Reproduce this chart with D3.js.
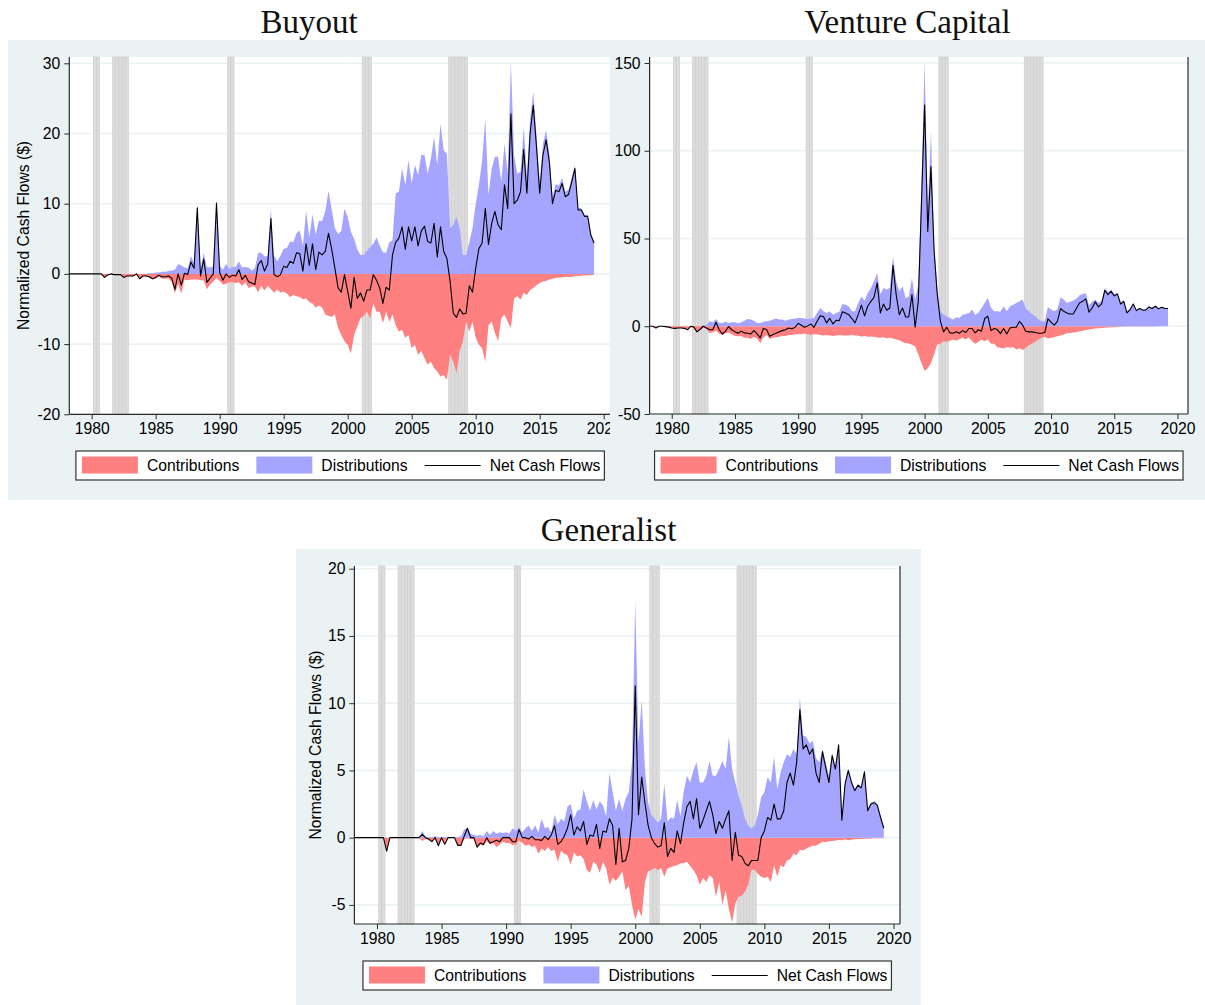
<!DOCTYPE html>
<html>
<head>
<meta charset="utf-8">
<script src="https://cdn.jsdelivr.net/npm/d3@7"></script>
<style>
	body { margin: 0; background: #fff; }
	svg text { font-family: "Liberation Sans", Arial, sans-serif; }
	svg .title { font-family: "Liberation Serif", "Times New Roman", serif; }
</style>
</head>
<body>
<svg id="chart" width="1205" height="1005"></svg>
<script>
// quarterly series, first value is 1978.25
const startYear = 1978.25
const xTicks = [1980, 1985, 1990, 1995, 2000, 2005, 2010, 2015, 2020]
const legendLabels = ['Contributions', 'Distributions', 'Net Cash Flows']
const recessionQuarters = [1980.25, 1980.5, 1981.75, 1982, 1982.25, 1982.5, 1982.75,
	1990.75, 1991, 2001.25, 2001.5, 2001.75, 2008, 2008.25, 2008.5, 2008.75, 2009, 2009.25]

/* Buyout */
const buyoutYTicks = [-20, -10, 0, 10, 20, 30]
const buyoutNet = [
	0, 0, 0,
	0, 0, 0, 0,
	0, 0, 0, 0,
	-0.5, -0.15, 0, -0.1,
	-0.1, -0.1, -0.5, -0.3,
	-0.3, -0.3, 0, -0.7,
	-0.3, -0.3, -0.4, -0.7,
	-0.5, -0.2, -0.4, -0.4,
	-0.3, -0.6, -2.2, 0,
	-1.6, 0.1, -0.1, 1.7,
	0.8, 9.4, -0.3, 2.1,
	-1.2, -0.6, 0, 10.1,
	0.2, -0.9, 0, -0.5,
	-0.2, -0.3, 0.6, -0.8,
	-0.2, -1.1, -1.3, -1.5,
	1.3, 1.9, 0.4, 1.4,
	7.9, -0.1, -0.4, -0.1,
	1.1, 0.9, 1.8, 1.5,
	3.0, 2.9, 0.4, 4.3,
	1.2, 4.3, 0.6, 3.1,
	2.7, 3.2, 5.8, 3.5,
	0.8, -2.0, -2.6, -0.1,
	-2.5, -4.9, -0.5, -3.5,
	-2.7, -3.9, -2.3, -2.3,
	-0.1, -0.9, -2.0, -4.2,
	-1.9, -2.3, 2.7, 4.5,
	5.1, 6.7, 3.5, 6.7,
	4.7, 6.7, 4.0, 6.1,
	6.8, 4.6, 4.4, 7.2,
	2.4, 6.7, 3.2, 2.2,
	-1.1, -5.6, -6.2, -5.0,
	-5.7, -5.6, -1.7, -2.6,
	0.8, 3.6, 4.4, 9.3,
	4.2, 7.2, 8.9, 7.0,
	6.3, 12.7, 9.3, 22.8,
	10.0, 10.5, 11.7, 17.7,
	11.5, 20.0, 24.0, 18.1,
	11.5, 16.9, 19.1, 16.0,
	10.0, 11.9, 11.7, 12.9,
	11.0, 11.3, 13.1, 15.0,
	9.1, 9.1, 8.2, 8.2,
	5.5, 4.4
]
const buyoutDistributions = [
	0, 0, 0,
	0, 0, 0, 0,
	0, 0, 0, 0,
	0, 0, 0, 0,
	0, 0, 0, 0,
	0, 0, 0, 0,
	0, 0, 0.1, 0.1,
	0.2, 0.2, 0.3, 0.3,
	0.4, 0.5, 0.6, 1.4,
	1.2, 0.9, 0.8, 2.5,
	1.6, 9.8, 0.6, 3.0,
	1.0, 0.9, 1.1, 10.4,
	1.2, 0.6, 1.4, 0.7,
	1.0, 1.0, 1.8, 0.9,
	1.0, 0.9, 0.5, 0.8,
	3.0, 3.0, 2.5, 2.5,
	9.2, 2.6, 1.8, 2.6,
	3.6, 3.7, 4.6, 4.5,
	5.8, 6.2, 4.0, 9.0,
	5.2, 8.5, 5.6, 7.6,
	7.5, 9.0, 11.8, 9.2,
	6.5, 5.7, 6.1, 9.3,
	8.1, 6.0, 5.0, 3.5,
	2.7, 2.7, 3.3, 3.8,
	4.3, 5.2, 4.0, 3.1,
	3.0, 4.5, 4.8, 11.5,
	11.7, 15.0, 12.7, 16.2,
	12.9, 15.5, 14.1, 17.0,
	16.9, 14.3, 16.4, 19.5,
	15.5, 21.4, 17.6, 17.1,
	6.5, 7.0, 8.1, 6.5,
	2.7, 2.7, 4.5, 6.5,
	10.0, 12.7, 16.1, 22.1,
	11.2, 15.0, 16.7, 16.7,
	13.1, 18.6, 14.3, 30.2,
	16.9, 14.3, 14.5, 20.9,
	14.0, 22.0, 25.9, 19.8,
	13.0, 18.5, 20.5, 17.2,
	11.0, 12.8, 12.6, 13.7,
	11.7, 12.0, 13.7, 15.5,
	9.4, 9.4, 8.4, 8.4,
	5.6, 4.5
]
const buyoutContributions = [
	0, 0, 0,
	0, 0, 0, 0,
	0, 0, 0, 0,
	-0.5, -0.15, 0, -0.1,
	-0.1, -0.1, -0.5, -0.3,
	-0.3, -0.3, -0.1, -0.7,
	-0.3, -0.3, -0.5, -0.8,
	-0.7, -0.4, -0.7, -0.7,
	-0.7, -1.1, -2.8, -1.4,
	-2.8, -0.8, -0.9, -0.8,
	-0.8, -0.8, -0.9, -0.9,
	-2.2, -1.5, -1.1, -0.6,
	-1.0, -1.5, -1.4, -1.2,
	-1.2, -1.3, -1.2, -1.7,
	-1.2, -2.0, -1.8, -1.8,
	-2.6, -1.7, -2.4, -1.7,
	-2.2, -2.7, -2.2, -2.7,
	-2.5, -2.8, -3.3, -3.0,
	-3.2, -3.3, -3.6, -3.5,
	-4.0, -4.2, -4.8, -4.5,
	-4.8, -5.8, -6.0, -6.1,
	-5.8, -7.7, -8.7, -9.6,
	-10.1, -11.3, -8.7, -7.5,
	-6.3, -6.0, -5.4, -6.3,
	-4.2, -5.4, -5.4, -7.0,
	-5.4, -6.8, -5.8, -7.3,
	-8.2, -8.0, -9.1, -8.7,
	-10.6, -10.1, -11.5, -11.0,
	-12.0, -12.9, -12.5, -13.4,
	-13.9, -14.6, -14.4, -15.1,
	-11.5, -12.5, -14.1, -11.0,
	-9.6, -6.8, -8.2, -6.8,
	-9.1, -10.1, -10.6, -12.5,
	-7.3, -6.8, -8.4, -9.6,
	-6.3, -5.8, -6.8, -7.7,
	-3.5, -3.2, -3.7, -2.7,
	-3.0, -2.3, -2.0, -1.6,
	-1.3, -1.1, -1.0, -0.8,
	-0.7, -0.6, -0.5, -0.5,
	-0.4, -0.45, -0.4, -0.3,
	-0.3, -0.25, -0.2, -0.2,
	-0.15, -0.15
]

/* Venture Capital */
const ventureYTicks = [-50, 0, 50, 100, 150]
const ventureNet = [
	0, 0, -1.0,
	0, 0, -0.2, -0.5,
	-1.0, -1.2, -1.0, -1.0,
	-1.2, -2.0, 0, -0.5,
	-3.2, -1.7, 0, -1.0,
	-2.0, -2.0, 2.3, -2.0,
	-4.4, -2.8, -0.2, -2.0,
	-3.2, -4.0, -2.8, -3.8,
	-4.0, -4.4, -2.5, -4.4,
	-6.6, -1.3, -1.9, -5.7,
	-4.7, -4.0, -3.2, -2.5,
	-2.0, -1.0, -1.4, -0.6,
	1.7, 0.6, -0.6, 0.2,
	1.3, -0.6, 2.8, 6.0,
	5.5, 1.9, 4.5, 1.3,
	3.4, 3.2, 8.2, 7.6,
	6.6, 4.4, 1.9, 6.6,
	12.0, 5.9, 11.4, 14.2,
	16.5, 24.7, 7.6, 12.7,
	9.1, 10.4, 34.7, 18.0,
	6.6, 10.4, 5.3, 5.3,
	18.0, -0.6, 14.2, 70.0,
	126.0, 54.0, 91.0, 43.0,
	18.0, 2.8, -3.2, -0.6,
	-3.8, -4.0, -3.2, -4.0,
	-2.5, -3.6, -1.3, -1.3,
	-3.8, -2.0, -2.8, 4.4,
	5.7, -2.5, -1.3, -1.9,
	-4.2, -1.3, -4.4, -1.0,
	-0.6, -0.6, 2.8, 0.6,
	-2.8, -3.2, -3.2, -3.6,
	-4.0, -4.0, -3.6, 4.2,
	2.3, 0.6, 2.8, 10.1,
	8.5, 7.6, 7.0, 7.0,
	10.1, 13.3, 14.2, 15.6,
	8.0, 10.4, 13.9, 11.0,
	12.7, 20.5, 18.0, 19.9,
	17.3, 18.4, 12.7, 14.2,
	7.6, 9.5, 12.7, 8.9,
	10.1, 9.2, 9.3, 11.0,
	10.1, 11.4, 9.9, 10.8,
	10.1, 10.1
]
const ventureDistributions = [
	0, 0, 0,
	0, 0, 0, 0,
	0, 0, 0, 0,
	0, 0, 0, 0,
	0, 0, 0.5, 0.5,
	2.8, 2.3, 4.2, 1.9,
	1.9, 2.5, 1.9, 2.3,
	2.3, 1.7, 2.3, 3.2,
	4.2, 3.8, 3.2, 1.9,
	1.9, 2.5, 2.8, 3.2,
	3.8, 4.4, 3.8, 3.8,
	3.2, 3.8, 4.2, 4.4,
	4.7, 4.7, 4.4, 4.2,
	4.4, 4.7, 7.6, 10.4,
	8.5, 7.6, 8.5, 6.6,
	7.6, 8.2, 12.7, 12.3,
	11.4, 8.5, 8.5, 13.3,
	17.0, 14.6, 19.0, 21.8,
	25.6, 30.4, 18.4, 21.8,
	20.9, 21.8, 39.8, 25.6,
	19.9, 22.8, 16.1, 17.0,
	27.5, 15.2, 23.7, 80.0,
	151.0, 65.0, 111.0, 48.0,
	22.0, 8.5, 6.6, 5.7,
	4.7, 3.8, 5.1, 4.7,
	6.6, 7.0, 7.4, 9.5,
	6.6, 7.6, 10.4, 13.3,
	16.1, 10.4, 8.5, 8.5,
	8.2, 11.4, 8.5, 11.4,
	12.3, 13.3, 14.2, 15.2,
	10.1, 8.5, 7.0, 5.7,
	3.8, 2.8, 2.8, 11.0,
	9.5, 8.5, 9.5, 16.5,
	15.2, 13.3, 13.9, 14.6,
	15.7, 17.6, 18.4, 18.8,
	12.0, 13.9, 15.2, 13.3,
	14.6, 21.8, 19.5, 20.9,
	18.4, 19.0, 13.3, 15.0,
	8.3, 10.0, 13.1, 9.3,
	10.4, 9.3, 9.7, 11.4,
	10.4, 11.8, 10.3, 11.2,
	10.4, 10.4
]
const ventureContributions = [
	0, 0, -1.0,
	0, 0, -0.2, -0.5,
	-1.0, -1.2, -1.0, -1.0,
	-1.2, -2.0, -0.5, -0.5,
	-3.2, -2.0, -0.6, -1.5,
	-3.8, -3.4, -2.5, -4.2,
	-5.0, -4.0, -3.5, -4.5,
	-5.5, -5.7, -5.5, -6.5,
	-6.5, -7.2, -6.0, -7.0,
	-9.5, -6.5, -4.8, -7.2,
	-6.5, -6.2, -6.0, -5.5,
	-5.5, -5.0, -5.0, -4.5,
	-4.5, -4.5, -4.2, -4.5,
	-4.8, -4.5, -4.5, -5.0,
	-5.2, -5.0, -5.2, -5.5,
	-5.3, -5.0, -5.2, -5.3,
	-5.2, -5.0, -5.2, -5.4,
	-5.8, -5.5, -6.0, -5.8,
	-6.0, -6.4, -6.5, -6.2,
	-6.8, -6.5, -7.0, -7.5,
	-8.0, -9.0, -9.5, -9.8,
	-10.5, -11.5, -16.0, -21.0,
	-25.5, -24.0, -21.0, -16.0,
	-10.4, -10.0, -8.5, -8.8,
	-8.2, -7.6, -8.2, -7.2,
	-6.6, -7.6, -6.3, -8.5,
	-10.0, -9.0, -7.6, -8.5,
	-7.6, -10.0, -10.0, -12.0,
	-12.3, -12.7, -11.8, -12.3,
	-11.8, -13.3, -12.5, -13.5,
	-12.3, -10.8, -10.0, -8.8,
	-7.6, -6.6, -6.0, -7.0,
	-6.6, -6.3, -5.7, -5.3,
	-4.7, -4.0, -3.8, -3.5,
	-3.4, -2.8, -2.5, -2.1,
	-1.9, -1.5, -1.3, -1.1,
	-1.0, -0.9, -0.7, -0.6,
	-0.5, -0.4, -0.3, -0.3,
	-0.2, -0.2, -0.15, -0.15,
	-0.1, -0.1, -0.1, -0.1,
	-0.1, -0.1, -0.05, -0.05,
	-0.05, -0.05
]

/* Generalist */
const generalistYTicks = [-5, 0, 5, 10, 15, 20]
const generalistNet = [
	0, 0, 0,
	0, 0, 0, 0,
	0, 0, 0, -1.0,
	0, 0, 0, 0,
	0, 0, 0, 0,
	0, 0, 0.25, 0,
	-0.1, -0.3, 0, -0.6,
	0, -0.5, 0, 0,
	0, -0.57, -0.57, 0.1,
	0.7, 0, 0, -0.7,
	-0.4, -0.5, 0, -0.4,
	-0.3, -0.2, -0.3, 0,
	0, 0, -0.3, -0.3,
	0.6, 0, 0, -0.1,
	0.1, -0.15, -0.15, -0.2,
	0.1, -0.15, 0.2, 0.9,
	-0.5, -0.3, 0.1, 0.7,
	1.7, 0.2, 0.8, 0.5,
	1.2, -0.5, 0.2, 0.1,
	1.0, -0.8, 0.5, 0.4,
	1.4, 0.9, -2.0, 0.7,
	-1.8, -1.7, -0.8, 1.4,
	11.3, 1.7, 4.5, 2.6,
	0.9, 0, -0.45, -0.7,
	-0.6, 1.1, -1.4, -0.8,
	-1.1, 0.5, -0.45, 1.1,
	2.3, 2.7, 1.4, 2.9,
	0.7, 1.3, 2.0, 2.7,
	1.7, 0.3, 1.2, 0.7,
	1.4, 2.0, -1.7, 0.4,
	-1.3, -1.4, -1.9, -2.1,
	-1.7, -1.7, -1.7, 0,
	0.5, 1.5, 1.3, 2.5,
	1.4, 1.4, 2.0, 4.1,
	4.8, 3.9, 5.6, 9.5,
	6.6, 6.9, 6.2, 6.6,
	4.8, 4.1, 6.4, 5.2,
	4.1, 6.1, 5.1, 6.9,
	1.3, 4.0, 5.0, 4.1,
	3.5, 3.9, 3.7, 4.9,
	2.0, 2.5, 2.6, 2.4,
	1.5, 0.7
]
const generalistDistributions = [
	0, 0, 0,
	0, 0, 0, 0,
	0, 0, 0, 0,
	0, 0, 0, 0,
	0, 0, 0, 0,
	0, 0, 0.5, 0.1,
	0.05, 0.05, 0.1, 0.05,
	0.05, 0.05, 0.05, 0.05,
	0.05, 0.05, 0.1, 0.6,
	0.7, 0.3, 0.2, 0.15,
	0.2, 0.1, 0.5, 0.2,
	0.5, 0.3, 0.4, 0.35,
	0.4, 0.3, 0.7, 0.5,
	0.8, 0.4, 0.7, 0.9,
	0.5, 0.9, 0.4, 1.4,
	0.7, 0.8, 0.4, 1.7,
	1.0, 1.4, 1.2, 2.3,
	2.5, 1.4, 2.0, 2.1,
	3.6, 2.7, 2.0, 2.8,
	2.1, 2.7, 2.4, 1.6,
	4.8, 3.4, 2.0, 2.9,
	2.0, 2.9, 3.4, 5.6,
	17.6, 7.0, 10.2, 5.1,
	2.6, 1.7, 1.4, 1.1,
	1.4, 4.0, 1.2, 1.5,
	1.4, 2.8, 1.6, 3.4,
	4.6, 4.1, 5.0, 5.6,
	4.1, 4.1, 4.6, 5.7,
	4.6, 4.6, 5.1, 5.7,
	5.1, 7.5, 5.1, 4.1,
	3.1, 2.4, 1.4, 0.9,
	0.7, 0.9, 1.7, 3.0,
	3.4, 4.5, 4.1, 6.0,
	3.6, 4.8, 5.6, 6.2,
	6.0, 6.6, 6.2, 10.4,
	7.6, 7.5, 7.0, 7.2,
	5.9, 5.6, 6.6, 5.6,
	4.6, 6.3, 5.2, 6.9,
	1.4, 4.1, 5.1, 4.2,
	3.6, 4.0, 3.8, 4.9,
	2.1, 2.6, 2.7, 2.5,
	1.6, 0.8
]
const generalistContributions = [
	0, 0, 0,
	0, 0, 0, 0,
	0, 0, 0, -1.0,
	0, 0, 0, 0,
	0, 0, 0, 0,
	0, 0, -0.25, -0.1,
	-0.15, -0.3, -0.1, -0.6,
	-0.1, -0.5, 0, 0,
	0, -0.6, -0.6, -0.1,
	-0.05, -0.1, -0.1, -0.75,
	-0.5, -0.6, -0.25, -0.5,
	-0.4, -0.7, -0.5, -0.3,
	-0.4, -0.4, -0.55, -0.5,
	-0.2, -0.4, -0.6, -0.5,
	-0.7, -0.6, -1.2, -0.8,
	-1.0, -0.7, -1.0, -0.9,
	-1.8, -1.0, -1.2, -1.3,
	-2.0, -1.1, -1.4, -1.3,
	-1.6, -2.4, -2.6, -1.8,
	-2.0, -2.6, -1.8, -2.3,
	-3.5, -3.0, -3.2, -2.9,
	-2.5, -3.9, -3.6, -5.0,
	-6.1, -5.3, -5.9, -3.3,
	-2.5, -2.4, -2.25, -2.4,
	-2.25, -2.9, -2.3, -2.2,
	-2.1, -2.05, -1.9, -1.9,
	-1.8, -2.1, -2.4, -2.8,
	-3.5, -3.0, -3.3, -2.8,
	-3.0, -4.4, -3.3, -5.0,
	-3.9, -5.3, -6.3, -4.9,
	-4.4, -4.3, -4.0, -3.5,
	-2.4, -2.4, -2.7, -2.9,
	-3.0, -2.9, -3.3, -2.05,
	-2.9, -2.05, -2.2, -1.7,
	-1.6, -1.2, -1.3, -0.9,
	-0.95, -0.8, -0.7, -0.6,
	-0.6, -0.45, -0.3, -0.35,
	-0.27, -0.25, -0.22, -0.17,
	-0.2, -0.12, -0.2, -0.15,
	-0.12, -0.1, -0.1, -0.08,
	-0.08, -0.06, -0.05, -0.05,
	-0.04, -0.03
]

const colors = {
	background: '#eaf2f3',
	grid: '#eaf2f3',
	axis: '#2b2b2b',
	contributions: '#ff8080',
	distributions: '#a5a5ff',
	net: '#000',
	recession: '#dcdcdc'
}

const fontSize = 15.7

// plain hyphen for negative tick labels, as in the original
const formatTick = (d) => `${d}`

const panels = [
	{
		title: 'Buyout',
		net: buyoutNet,
		distributions: buyoutDistributions,
		contributions: buyoutContributions,
		yTicks: buyoutYTicks,
		region: { x: 8, y: 40, width: 602, height: 460 },
		plot: { left: 69.3, right: 611, top: 57, bottom: 414.3, end: 603.7 },
		yRange: [414.3, 63.3],
		yTitle: { x: 29, y: 235.5 },
		border: false,
		legendTop: 451,
		titleY: 33
	},
	{
		title: 'Venture Capital',
		net: ventureNet,
		distributions: ventureDistributions,
		contributions: ventureContributions,
		yTicks: ventureYTicks,
		region: { x: 610, y: 40, width: 595, height: 460 },
		plot: { left: 649.6, right: 1188, top: 57, bottom: 414, end: 1177.5 },
		yRange: [414, 63],
		yTitle: null,
		border: true,
		legendTop: 451,
		titleY: 33
	},
	{
		title: 'Generalist',
		net: generalistNet,
		distributions: generalistDistributions,
		contributions: generalistContributions,
		yTicks: generalistYTicks,
		region: { x: 296, y: 549, width: 625, height: 456 },
		plot: { left: 354.4, right: 900, top: 566, bottom: 924, end: 893.5 },
		yRange: [904.9, 568.7],
		yTitle: { x: 321, y: 745 },
		border: true,
		legendTop: 961,
		titleY: 541
	}
]

const svg = d3.select('#chart')

const drawPanel = (p) => {
	const g = svg.append('g')
	const quarters = d3.range(p.net.length).map((i) => startYear + i / 4)
	const rows = quarters.map((q, i) => ({
		q,
		net: p.net[i],
		contributions: p.contributions[i],
		distributions: p.distributions[i]
	}))

	const xScale = d3.scaleLinear()
		.domain([startYear, 2020])
		.range([p.plot.left, p.plot.end])

	const yScale = d3.scaleLinear()
		.domain(d3.extent(p.yTicks))
		.range(p.yRange)

	/* Regions */
	g.append('rect')
		.attr('x', p.region.x)
		.attr('y', p.region.y)
		.attr('width', p.region.width)
		.attr('height', p.region.height)
		.attr('fill', colors.background)

	g.append('rect')
		.attr('x', p.plot.left)
		.attr('y', p.plot.top)
		.attr('width', p.plot.right - p.plot.left)
		.attr('height', p.plot.bottom - p.plot.top)
		.attr('fill', '#fff')

	/* Grid */
	g.append('g')
		.selectAll('line')
		.data(p.yTicks)
		.join('line')
		.attr('x1', p.plot.left)
		.attr('x2', p.plot.right)
		.attr('y1', (d) => yScale(d))
		.attr('y2', (d) => yScale(d))
		.attr('stroke', colors.grid)
		.attr('stroke-width', 1.6)

	/* Recessions */
	g.append('g')
		.selectAll('rect')
		.data(recessionQuarters)
		.join('rect')
		.attr('x', (d) => xScale(d - 0.125))
		.attr('width', (d) => xScale(d + 0.125) - xScale(d - 0.125))
		.attr('y', p.plot.top)
		.attr('height', p.plot.bottom - p.plot.top)
		.attr('fill', colors.recession)
		.attr('stroke', '#cdcdcd')
		.attr('stroke-width', 0.6)

	/* Areas */
	const contributionArea = d3.area()
		.x((d) => xScale(d.q))
		.y0(yScale(0))
		.y1((d) => yScale(d.contributions))

	const distributionArea = d3.area()
		.x((d) => xScale(d.q))
		.y0(yScale(0))
		.y1((d) => yScale(d.distributions))

	g.append('path')
		.datum(rows)
		.attr('d', contributionArea)
		.attr('fill', colors.contributions)

	g.append('path')
		.datum(rows)
		.attr('d', distributionArea)
		.attr('fill', colors.distributions)

	/* Net line */
	const lineGenerator = d3.line()
		.x((d) => xScale(d.q))
		.y((d) => yScale(d.net))

	g.append('path')
		.datum(rows)
		.attr('d', lineGenerator)
		.attr('fill', 'none')
		.attr('stroke', colors.net)
		.attr('stroke-width', 1.1)
		.attr('stroke-linejoin', 'round')

	/* Axes */
	const yAxis = d3.axisLeft(yScale)
		.tickValues(p.yTicks)
		.tickFormat(formatTick)
		.tickSize(5)
		.tickSizeOuter(0)
		.tickPadding(4)

	g.append('g')
		.attr('transform', `translate(${p.plot.left},0)`)
		.call(yAxis)
		.call((a) => a.select('.domain').remove())

	const xAxis = d3.axisBottom(xScale)
		.tickValues(xTicks)
		.tickFormat(formatTick)
		.tickSize(5)
		.tickSizeOuter(0)
		.tickPadding(4)

	g.append('g')
		.attr('transform', `translate(0,${p.plot.bottom})`)
		.call(xAxis)
		.call((a) => a.select('.domain').remove())

	g.selectAll('.tick line').attr('stroke', colors.axis)
	g.selectAll('.tick text')
		.attr('fill', '#000')
		.style('font-size', `${fontSize}px`)
		.style('font-family', '"Liberation Sans", Arial, sans-serif')

	g.append('line')
		.attr('x1', p.plot.left)
		.attr('x2', p.plot.left)
		.attr('y1', p.plot.top)
		.attr('y2', p.plot.bottom)
		.attr('stroke', colors.axis)
		.attr('stroke-width', 1.2)

	g.append('line')
		.attr('x1', p.plot.left)
		.attr('x2', p.plot.right)
		.attr('y1', p.plot.bottom)
		.attr('y2', p.plot.bottom)
		.attr('stroke', colors.axis)
		.attr('stroke-width', 1.2)

	if (p.border) {
		g.append('line')
			.attr('x1', p.plot.right)
			.attr('x2', p.plot.right)
			.attr('y1', p.plot.top)
			.attr('y2', p.plot.bottom)
			.attr('stroke', colors.axis)
			.attr('stroke-width', 1.2)
	}

	if (p.yTitle) {
		g.append('text')
			.attr('transform', `translate(${p.yTitle.x},${p.yTitle.y}) rotate(-90)`)
			.attr('text-anchor', 'middle')
			.style('font-size', `${fontSize}px`)
			.text('Normalized Cash Flows ($)')
	}

	/* Legend */
	const legend = g.append('g')
	const box = legend.append('rect')
	const keyWidth = 56
	let cursor = 6

	legendLabels.forEach((label, i) => {
		if (i < 2) {
			legend.append('rect')
				.attr('x', cursor)
				.attr('y', 5.5)
				.attr('width', keyWidth)
				.attr('height', 17)
				.attr('fill', i === 0 ? colors.contributions : colors.distributions)
		} else {
			legend.append('line')
				.attr('x1', cursor)
				.attr('x2', cursor + keyWidth)
				.attr('y1', 14.5)
				.attr('y2', 14.5)
				.attr('stroke', colors.net)
				.attr('stroke-width', 1.1)
		}
		const text = legend.append('text')
			.attr('x', cursor + keyWidth + 9)
			.attr('y', 20.3)
			.style('font-size', `${fontSize}px`)
			.text(label)
		cursor += keyWidth + 9 + text.node().getComputedTextLength() + 17
	})

	const boxWidth = cursor - 17 + 4
	box.attr('width', boxWidth)
		.attr('height', 29)
		.attr('fill', '#fff')
		.attr('stroke', '#333')
		.attr('stroke-width', 1.2)

	const center = (p.plot.left + p.plot.right) / 2
	legend.attr('transform', `translate(${center - boxWidth / 2},${p.legendTop})`)
}

panels.forEach(drawPanel)

/* Titles */
svg.append('g')
	.selectAll('text')
	.data(panels)
	.join('text')
	.attr('class', 'title')
	.attr('x', (d) => d.region.x + d.region.width / 2)
	.attr('y', (d) => d.titleY)
	.attr('text-anchor', 'middle')
	.style('font-size', '33px')
	.attr('fill', '#111')
	.text((d) => d.title)
</script>
</body>
</html>
